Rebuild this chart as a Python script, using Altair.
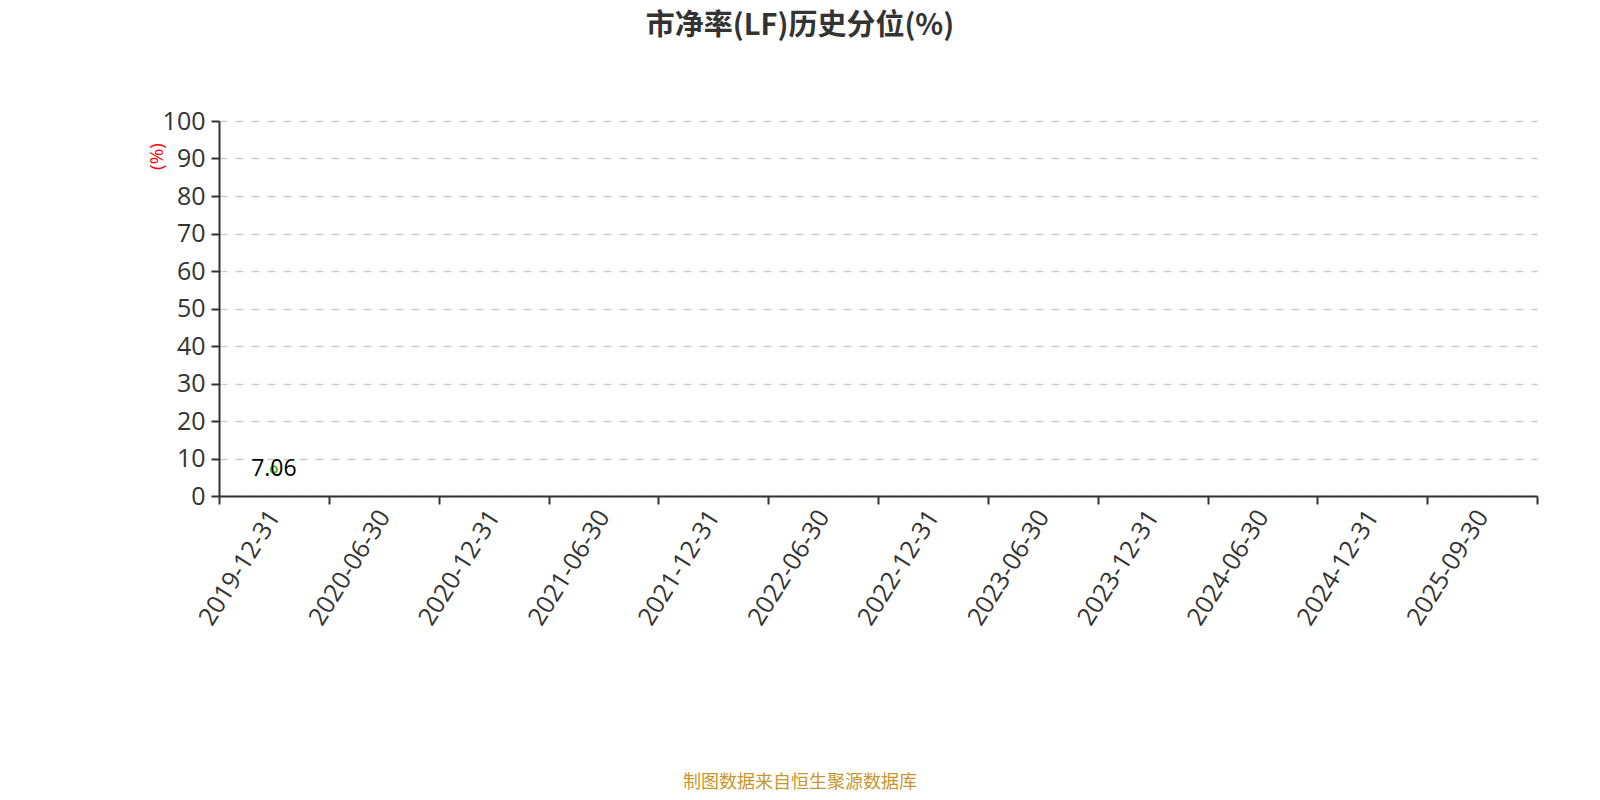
import altair as alt
import pandas as pd

categories = ["2019-12-31", "2020-06-30", "2020-12-31", "2021-06-30", "2021-12-31",
              "2022-06-30", "2022-12-31", "2023-06-30", "2023-12-31", "2024-06-30",
              "2024-12-31", "2025-09-30"]
values = [7.06, None, None, None, None, None, None, None, None, None, None, None]

title_text = "市净率(LF)历史分位(%)"
footer_text = "制图数据来自恒生聚源数据库"
y_title = "(%)"

df = pd.DataFrame({"date": categories, "pct": values})

W, H = 1318, 375
LABEL_FONT = "Open Sans"
CJK_FONT = "Noto Sans CJK SC"
GREEN = "#5cb82e"

x_enc = alt.X("date:N", sort=categories,
              scale=alt.Scale(type="band", paddingInner=0, paddingOuter=0),
              axis=alt.Axis(title=None, labelAngle=-58, labelAlign="right", labelBaseline="middle",
                            labelFont=LABEL_FONT, labelFontSize=25, labelColor="#333",
                            labelPadding=8, tickBand="extent", tickSize=8, tickWidth=2,
                            tickColor="#333", domainColor="#333", domainWidth=2,
                            grid=False, labelOverlap=False))
y_enc = alt.Y("pct:Q", scale=alt.Scale(domain=[0, 100], nice=False),
              axis=alt.Axis(title=y_title, titleAngle=270, titleX=-63, titleY=35,
                            titleAlign="center", titleBaseline="middle",
                            titleColor="red", titleFont=LABEL_FONT, titleFontSize=19,
                            titleFontWeight="normal",
                            values=list(range(0, 101, 10)), labelFont=LABEL_FONT,
                            labelFontSize=25, labelColor="#333", labelPadding=6,
                            tickSize=8, tickWidth=2, tickColor="#333",
                            domainColor="#333", domainWidth=2,
                            grid=True, gridColor="#cccccc", gridDash=[8, 8], gridWidth=1.5))

base = alt.Chart(df)
line = base.mark_line(color=GREEN, strokeWidth=2).encode(x=x_enc, y=y_enc)
pts = base.mark_point(shape="circle", filled=False, color=GREEN, size=40, strokeWidth=2,
                      opacity=1).encode(x=x_enc, y=y_enc)
labels = base.mark_text(font=LABEL_FONT, fontSize=23, color="#000", align="center",
                        baseline="alphabetic", dy=6).encode(
    x=x_enc, y=y_enc, text=alt.Text("pct:Q", format=".2f"))

title = alt.Chart(alt.Data(values=[{"t": title_text}])).mark_text(
    font=CJK_FONT, fontSize=29, fontWeight="bold", color="#333", align="center",
    baseline="middle"
).encode(x=alt.value(581), y=alt.value(-95), text="t:N")

footer = alt.Chart(alt.Data(values=[{"t": footer_text}])).mark_text(
    font=CJK_FONT, fontSize=18, color="#c8962e", align="center", baseline="middle"
).encode(x=alt.value(581), y=alt.value(662), text="t:N")

chart = alt.layer(line, pts, labels, title, footer).properties(
    width=W, height=H,
    autosize=alt.AutoSizeParams(type="none"),
    padding={"left": 211, "top": 113, "right": 55, "bottom": 296},
).configure(background="white").configure_view(stroke=None)

chart.save("out.html", embed_options={"renderer": "svg", "actions": False})
